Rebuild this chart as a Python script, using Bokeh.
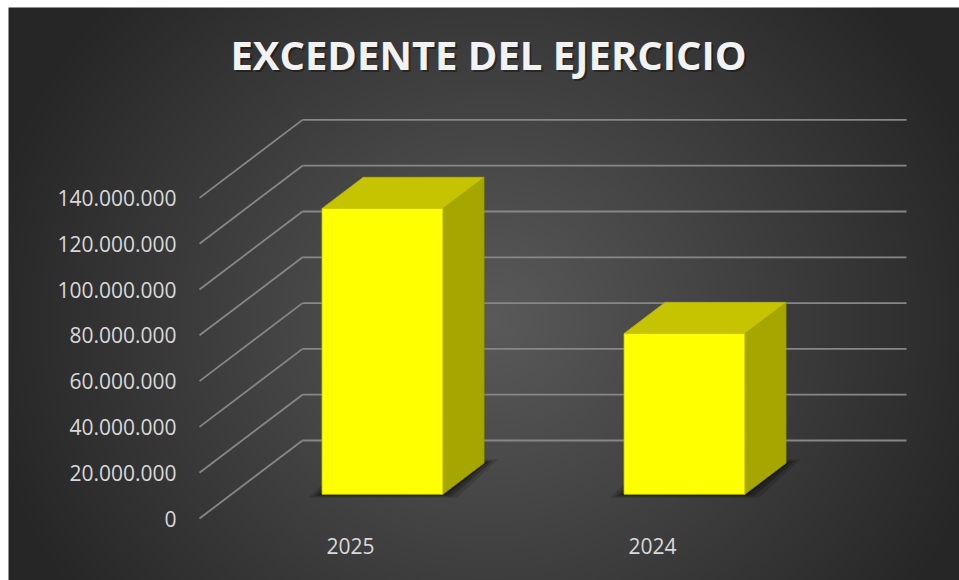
import numpy as np
from bokeh.plotting import figure
from bokeh.models import Range1d, FixedTicker
from bokeh.embed import file_html
from bokeh.resources import INLINE
from bokeh.core.properties import value

# ---------------- data ----------------
title_text = "EXCEDENTE DEL EJERCICIO"
years = ["2025", "2024"]
excedente = [124_800_000, 70_200_000]
y_ticks = [0, 20_000_000, 40_000_000, 60_000_000, 80_000_000,
           100_000_000, 120_000_000, 140_000_000]

# ---------------- layout (pixels, page coordinates) ----------------
W, H = 959, 580
BG_L, BG_T = 8, 7                    # chart area starts here (white strip before)
FRAME_L, FRAME_B = 190, 525          # frame left / bottom edge
X0_PX = 199                          # front-plane start of category axis
UNIT_PX = 302.0                      # px per category
Y0_PX = 518                          # front-plane zero line (from top)
V_PX = 2.29e-6                       # px per value unit
DEPTH_DX_PX, DEPTH_DY_PX = 103, 78   # oblique depth of the 3D box

DX = DEPTH_DX_PX / UNIT_PX
DY = DEPTH_DY_PX / V_PX

def px_x(px):
    return (px - X0_PX) / UNIT_PX

def px_y(py):
    return (Y0_PX - py) / V_PX

p = figure(width=W, height=H, output_backend="svg", toolbar_location=None,
           x_range=Range1d(px_x(FRAME_L), px_x(W)),
           y_range=Range1d(px_y(FRAME_B), px_y(0)),
           min_border_left=FRAME_L, min_border_right=0, min_border_top=0,
           min_border_bottom=H - FRAME_B, tools="")
p.outline_line_color = None
p.border_fill_color = "white"
p.background_fill_color = "white"
p.xgrid.visible = False
p.ygrid.visible = False

# ---------------- radial background ----------------
S = 2
gw, gh = (W - BG_L) // S + 1, (H - BG_T) // S + 1
gx = BG_L + (np.arange(gw) + 0.5) * S
gy = BG_T + (np.arange(gh) + 0.5) * S
GX, GY = np.meshgrid(gx, gy)
t = np.sqrt(((GX - 490) / 520.0) ** 2 + ((GY - 320) / 480.0) ** 2)
t = np.clip(t, 0, 1)
g = (90 - t * (90 - 38)).astype(np.uint32)
rgba = (255 << 24) | (g << 16) | (g << 8) | g
rgba = np.flipud(rgba).astype(np.uint32)
p.image_rgba(image=[rgba], x=px_x(BG_L), y=px_y(BG_T + gh * S),
             dw=gw * S / UNIT_PX, dh=gh * S / V_PX, level="annotation")

# ---------------- walls / gridlines ----------------
n_cat = len(years)
grid_col = "#878787"
p.segment(x0=[DX] * len(y_ticks), y0=[v + DY for v in y_ticks],
          x1=[n_cat + DX] * len(y_ticks), y1=[v + DY for v in y_ticks],
          line_color=grid_col, line_width=1.8, level="annotation")
p.segment(x0=[0] * len(y_ticks), y0=y_ticks,
          x1=[DX] * len(y_ticks), y1=[v + DY for v in y_ticks],
          line_color=grid_col, line_width=1.8, level="annotation")

# ---------------- 3D bars ----------------
HALF = 0.2
Z0, Z1 = 0.31, 0.71
cat_pos = [i + 0.5 for i in range(n_cat)]

# shadows (blurred footprint)
for e, a in [(14, 0.15), (9, 0.22), (4, 0.32)]:
    ex = e / UNIT_PX
    ey = (e / 4) / V_PX
    xs, ys = [], []
    for c in cat_pos:
        xl, xr = c - HALF, c + HALF
        xs.append([xl + Z0 * DX - ex, xr + Z0 * DX + ex, xr + Z1 * DX + ex, xl + Z1 * DX - ex])
        ys.append([Z0 * DY - ey, Z0 * DY - ey, Z1 * DY + ey, Z1 * DY + ey])
    p.patches(xs=xs, ys=ys, fill_color="black", fill_alpha=a,
              line_color=None, level="annotation")

front_x, front_y, top_x, top_y, side_x, side_y = [], [], [], [], [], []
for c, v in zip(cat_pos, excedente):
    xl, xr = c - HALF, c + HALF
    front_x.append([xl + Z0 * DX, xr + Z0 * DX, xr + Z0 * DX, xl + Z0 * DX])
    front_y.append([Z0 * DY, Z0 * DY, v + Z0 * DY, v + Z0 * DY])
    top_x.append([xl + Z0 * DX, xr + Z0 * DX, xr + Z1 * DX, xl + Z1 * DX])
    top_y.append([v + Z0 * DY, v + Z0 * DY, v + Z1 * DY, v + Z1 * DY])
    side_x.append([xr + Z0 * DX, xr + Z1 * DX, xr + Z1 * DX, xr + Z0 * DX])
    side_y.append([Z0 * DY, Z1 * DY, v + Z1 * DY, v + Z0 * DY])

p.patches(xs=side_x, ys=side_y, fill_color="#a6a600", line_color="#9a9a00",
          line_width=0.8, level="annotation")
p.patches(xs=top_x, ys=top_y, fill_color="#c6c400", line_color="#b5b300",
          line_width=0.8, level="annotation")
p.patches(xs=front_x, ys=front_y, fill_color="#ffff00", line_color="#c8c800",
          line_width=0.8, level="annotation")

# ---------------- title ----------------
TX, TY = px_x(488), px_y(54)
p.text(x=[TX], y=[TY], text=[title_text], x_offset=2, y_offset=2,
       text_font=value("Open Sans"), text_font_style="bold",
       text_font_size="40px", text_color="black", text_alpha=0.35,
       text_align="center", text_baseline="middle", level="overlay")
p.text(x=[TX], y=[TY], text=[title_text],
       text_font=value("Open Sans"), text_font_style="bold",
       text_font_size="40px", text_color="#f2f2f2",
       text_align="center", text_baseline="middle", level="overlay")

# ---------------- axes ----------------
p.yaxis.ticker = FixedTicker(ticks=y_ticks)
p.yaxis.major_label_overrides = {v: f"{v:,}".replace(",", ".") for v in y_ticks}
p.xaxis.ticker = FixedTicker(ticks=cat_pos)
p.xaxis.major_label_overrides = {c: y for c, y in zip(cat_pos, years)}
for ax in (p.xaxis, p.yaxis):
    ax.level = "overlay"
    ax.axis_line_color = None
    ax.major_tick_line_color = None
    ax.minor_tick_line_color = None
    ax.major_label_text_font = "Open Sans"
    ax.major_label_text_font_size = "21px"
    ax.major_label_text_color = "#d9d9d9"
p.yaxis.major_label_standoff = 8
p.xaxis.major_label_standoff = 6

open("out.html", "w").write(file_html(p, INLINE))
